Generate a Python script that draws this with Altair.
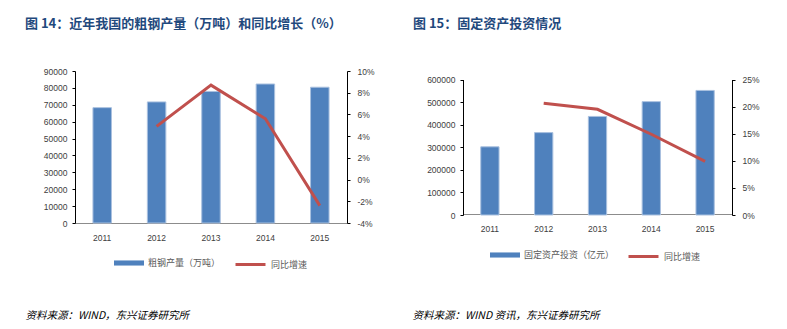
import altair as alt
import pandas as pd

# ---------------- data ----------------
years = ["2011", "2012", "2013", "2014", "2015"]
growth_years = ["2012", "2013", "2014", "2015"]

steel_output = [68300, 71700, 77900, 82300, 80400]        # 万吨
steel_growth = [4.9, 8.7, 5.6, -2.4]                      # %

fai_output = [301900, 364800, 436500, 502000, 551600]     # 亿元
fai_growth = [20.6, 19.5, 14.9, 9.9]                      # %

steel_bar_name = "粗钢产量（万吨）"
fai_bar_name = "固定资产投资（亿元）"
growth_name = "同比增速"

left_title = "图 14：近年我国的粗钢产量（万吨）和同比增长（%）"
right_title = "图 15：固定资产投资情况"
left_source = "资料来源：WIND，东兴证券研究所"
right_source = "资料来源：WIND 资讯，东兴证券研究所"

steel_left_ticks = list(range(0, 90001, 10000))
steel_right_ticks = list(range(-4, 11, 2))
fai_left_ticks = list(range(0, 600001, 100000))
fai_right_ticks = list(range(0, 26, 5))

# ---------------- style ----------------
BAR = "#4F81BD"
BAR_EDGE = "#A9C0DF"
LINE = "#C0504D"
TITLE_C = "#1F497D"
LABEL_C = "#404040"
CJK = "Noto Sans CJK SC"
LAT = "Liberation Sans"
H = 152


def panel(bar_vals, line_vals, bar_name, ldom, lticks, rdom, rticks, width,
          yrange, xoffset, title, source, title_offset, src_y, src_x,
          leg_bar_x, leg_line_x, leg_y):
    bdf = pd.DataFrame({"year": years, "value": bar_vals, "series": bar_name})
    ldf = pd.DataFrame({"year": growth_years, "value": line_vals, "series": growth_name})

    x = alt.X(
        "year:N",
        title=source,
        scale=alt.Scale(paddingInner=0.66, paddingOuter=0.33),
        axis=alt.Axis(
            labelAngle=0, ticks=False, domainColor="#8C8C8C", domainWidth=1,
            labelFont=LAT, labelFontSize=8.5, labelColor=LABEL_C, labelPadding=10,
            offset=xoffset,
            titleFont=CJK, titleFontSize=10.5, titleFontStyle="italic",
            titleFontWeight="normal", titleColor="#000000",
            titleAnchor="start", titleAlign="left", titleBaseline="middle",
            titleX=src_x, titleY=src_y,
        ),
    )
    yscale_kw = {} if yrange is None else {"range": yrange}
    bars = alt.Chart(bdf).mark_bar(stroke=BAR_EDGE, strokeWidth=1).encode(
        x=x,
        y=alt.Y(
            "value:Q",
            title=None,
            scale=alt.Scale(domain=ldom, nice=False, **yscale_kw),
            axis=alt.Axis(
                values=lticks, format="d", grid=False, domainColor="#000000",
                tickColor="#000000", tickSize=3, labelPadding=5,
                labelFont=LAT, labelFontSize=8.5, labelColor=LABEL_C,
            ),
        ),
        fill=alt.Fill(
            "series:N",
            scale=alt.Scale(range=[BAR]),
            legend=alt.Legend(
                title=None, orient="none", legendX=leg_bar_x, legendY=leg_y,
                symbolType="M-1,-0.17H1V0.17H-1Z", symbolSize=900,
                symbolStrokeWidth=0, labelFont=CJK, labelFontSize=9,
                labelColor="#595959", padding=0, labelOffset=4,
            ),
        ),
    )
    line = alt.Chart(ldf).mark_line(strokeWidth=3).encode(
        x=alt.X("year:N"),
        y=alt.Y(
            "value:Q",
            title=None,
            scale=alt.Scale(domain=rdom, nice=False, **yscale_kw),
            axis=alt.Axis(
                orient="right", values=rticks, labelExpr="datum.value + '%'",
                grid=False, domainColor="#000000", tickColor="#000000",
                tickSize=3, labelPadding=7,
                labelFont=LAT, labelFontSize=8.5, labelColor=LABEL_C,
            ),
        ),
        stroke=alt.Stroke(
            "series:N",
            scale=alt.Scale(range=[LINE]),
            legend=alt.Legend(
                title=None, orient="none", legendX=leg_line_x, legendY=leg_y,
                symbolType="stroke", symbolSize=900, symbolStrokeWidth=3,
                labelFont=CJK, labelFontSize=9, labelColor="#595959",
                padding=0, labelOffset=4,
            ),
        ),
    )
    return alt.layer(bars, line).resolve_scale(y="independent").properties(
        width=width,
        height=H,
        title=alt.TitleParams(
            title, anchor="start", frame="group", dx=-50, offset=title_offset,
            font=CJK, fontSize=13, fontWeight="bold", color=TITLE_C,
        ),
    )


left = panel(steel_output, steel_growth, steel_bar_name,
             [0, 90000], steel_left_ticks, [-4, 10], steel_right_ticks,
             272, None, 0, left_title, left_source, 36, 92, -50,
             39, 159, 177)

right = panel(fai_output, fai_growth, fai_bar_name,
              [0, 600000], fai_left_ticks, [0, 25], fai_right_ticks,
              269, [144, 8.5], -9, right_title, right_source, 40, 101, -51,
              27, 164, 169)

chart = alt.hconcat(left, right, spacing=37).resolve_scale(
    fill="independent", stroke="independent", x="independent"
).resolve_legend(fill="independent", stroke="independent").properties(
    padding={"left": 25, "top": 18, "right": 0, "bottom": 0},
    background="#ffffff",
).configure_view(stroke=None)

chart.save("out.html", embed_options={"renderer": "svg", "actions": False})
